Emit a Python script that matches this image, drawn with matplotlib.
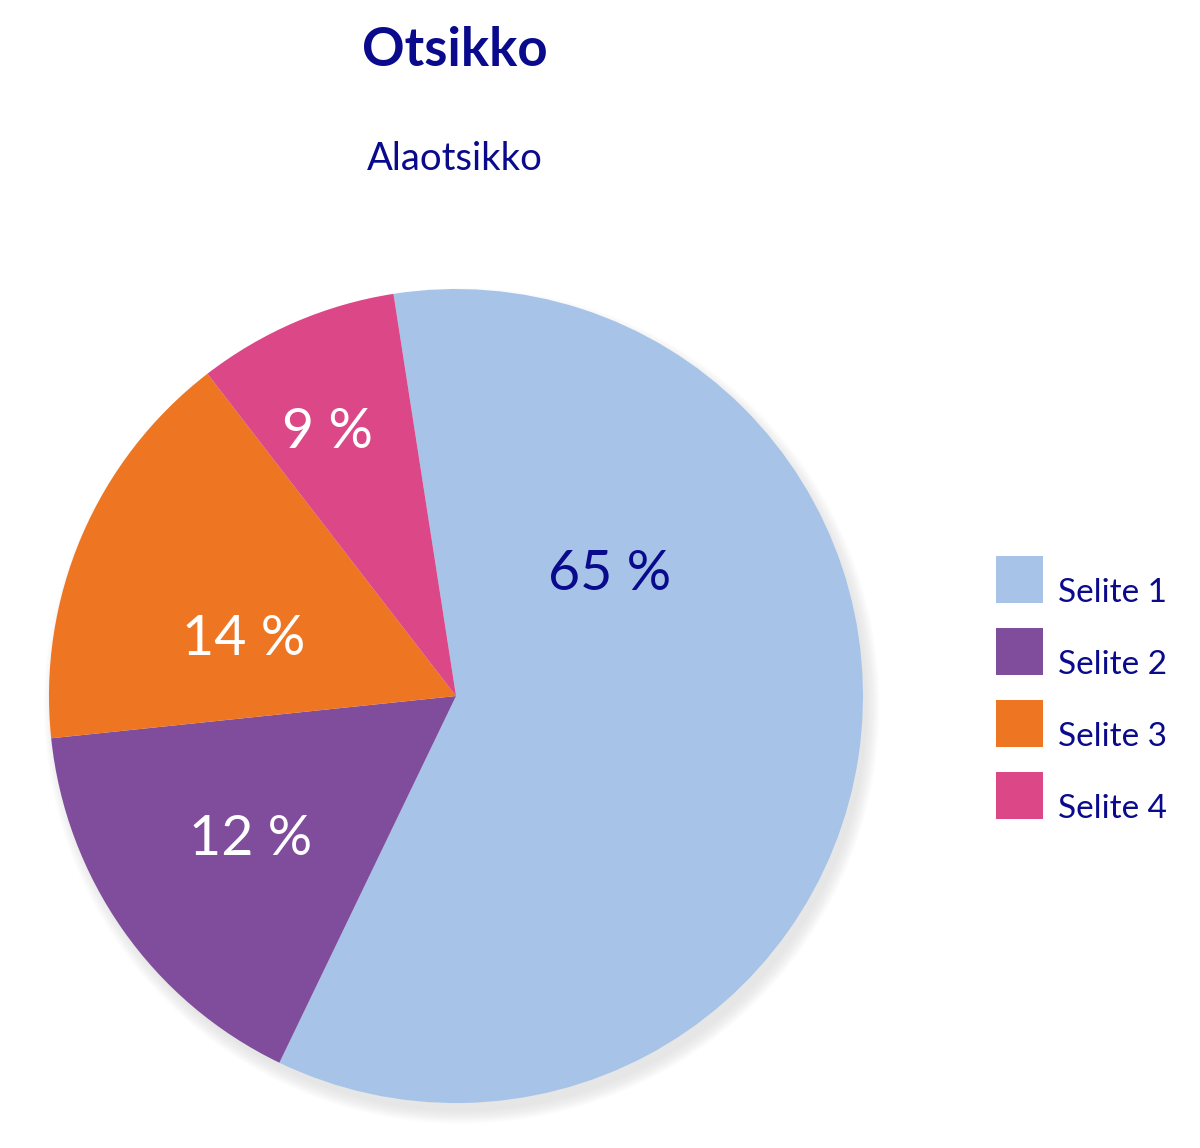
import matplotlib
matplotlib.use("Agg")
import matplotlib.pyplot as plt
import matplotlib.transforms as mtransforms
import numpy as np
from matplotlib.patches import Circle

# slice sizes as drawn (the printed labels are the chart's own texts)
categories = ["Selite 1", "Selite 2", "Selite 3", "Selite 4"]
values = [59.6, 16.2, 16.2, 8.0]
value_labels = ["65 %", "12 %", "14 %", "9 %"]
colors = ["#A7C4E8", "#804C9C", "#EE7623", "#DC4787"]
label_colors = ["#0A0A8C", "white", "white", "white"]

# label placement (angle in degrees, radius as fraction) - as in the original layout
label_pos = [(38.3, 0.48), (215.0, 0.615), (165.2, 0.54), (115.9, 0.72)]

navy = "#0A0A8C"
plt.rcParams['font.family'] = ['Lato', 'DejaVu Sans']

fig = plt.figure(figsize=(12, 11.48), dpi=100)
ax = fig.add_axes([0.0069, 0.0037, 0.7462, 0.78])

# soft drop shadow, mostly bottom-right
for i in range(10):
    ax.add_patch(Circle((0.014, -0.024), 0.995 + 0.0035 * i, color="#8a8a8a",
                        alpha=0.02, lw=0, zorder=0))

wedges, _ = ax.pie(values, colors=colors, startangle=98.84, counterclock=False,
                   radius=1.0, wedgeprops=dict(linewidth=0, edgecolor="none"))
for w in wedges:
    w.set_zorder(2)

for (ang, r), txt, c in zip(label_pos, value_labels, label_colors):
    a = np.deg2rad(ang)
    ax.text(r * np.cos(a), r * np.sin(a), txt, ha="center", va="center",
            fontsize=40, color=c, zorder=3)

ax.set_xlim(-1.1, 1.1)
ax.set_ylim(-1.1, 1.1)
ax.set_aspect("equal")
ax.axis("off")

leg = fig.legend(wedges, categories, loc="upper left",
                 bbox_to_anchor=(996 / 1200, 1 - 556 / 1148), frameon=False,
                 fontsize=24, handlelength=1.41, handleheight=1.79,
                 handletextpad=0.45, labelspacing=0.75, borderaxespad=0,
                 borderpad=0)
# text sits a little lower than the boxes in the original
shift = mtransforms.ScaledTranslation(0, -12 / 100, fig.dpi_scale_trans)
for t in leg.get_texts():
    t.set_color(navy)
    t.set_transform(t.get_transform() + shift)

fig.text(455 / 1200, 1 - 50 / 1148, "Otsikko", ha="center", va="center",
         fontsize=38, fontweight="bold", color=navy)
fig.text(455 / 1200, 1 - 159 / 1148, "Alaotsikko", ha="center", va="center",
         fontsize=27.5, color=navy)

fig.savefig("out.png", dpi=100, facecolor="white")
